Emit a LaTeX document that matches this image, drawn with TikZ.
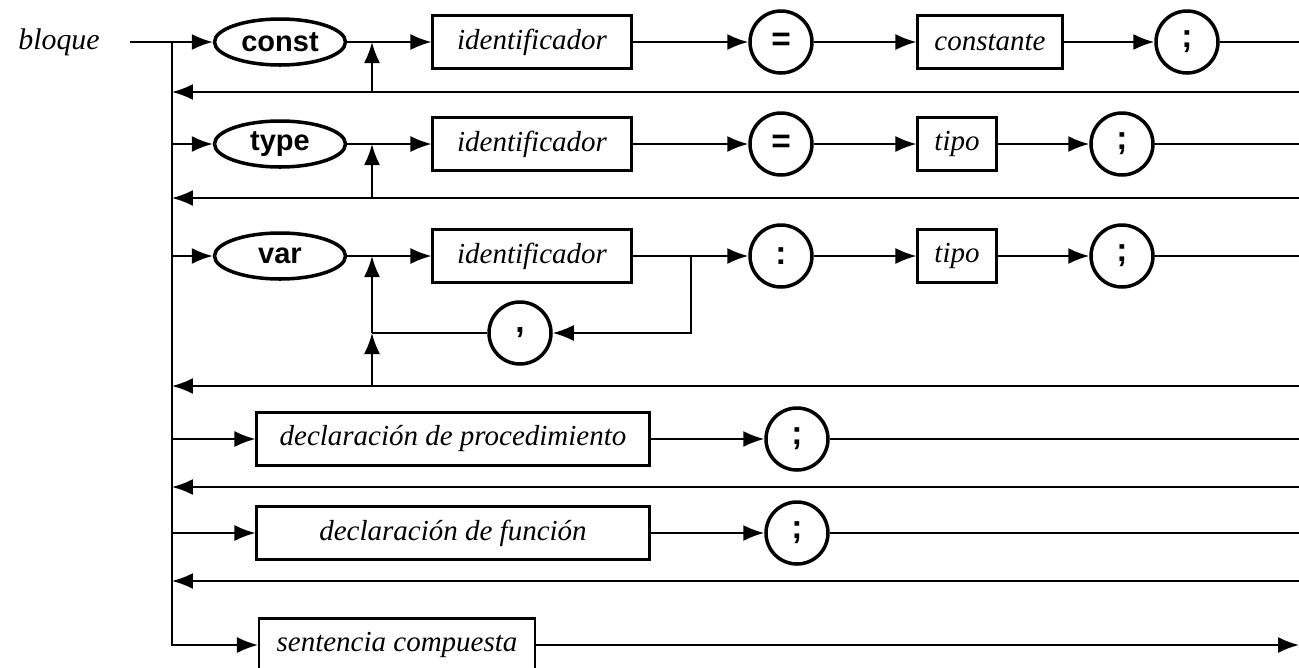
\documentclass[tikz,border=0pt]{standalone}
\usepackage{fontspec}
\setmainfont{Liberation Serif}
\setsansfont{Liberation Sans}
\usetikzlibrary{shapes.geometric}
\usetikzlibrary{arrows.meta}

\begin{document}
\begin{tikzpicture}[x=0.02cm, y=-0.02cm,
    >={Latex[length=4.2mm,width=3.2mm]},
    line width=1.1pt,
    kw/.style={ellipse, draw, line width=2pt, minimum width=2.62cm,
      minimum height=0.92cm, inner sep=0pt,
      font=\sffamily\bfseries\fontsize{16.5}{18}\selectfont},
    sym/.style={circle, draw, line width=2pt, minimum size=1.24cm,
      inner sep=0pt, font=\sffamily\bfseries\fontsize{19}{20}\selectfont},
    nt/.style={rectangle, draw, line width=1.2pt, minimum width=#1,
      minimum height=1.06cm, inner sep=0pt,
      font=\itshape\fontsize{16.5}{18}\selectfont},
  ]
  \clip (0,0) rectangle (1299,667);

  \node[font=\itshape\fontsize{17}{18}\selectfont] (bloque) at (59,42) {bloque};

  \node[kw] (const) at (280,42) {const};
  \node[nt=3.98cm] (id1) at (532,42) {identificador};
  \node[sym] (eq1) at (781,42) {=};
  \node[nt=2.9cm] (cte) at (990,42) {constante};
  \node[sym] (semi1) at (1187,42) {;};

  \node[kw] (type) at (280,144) {type};
  \node[nt=3.98cm] (id2) at (532,144) {identificador};
  \node[sym] (eq2) at (781,144) {=};
  \node[nt=1.58cm] (tipo1) at (957,144) {tipo};
  \node[sym] (semi2) at (1122,144) {;};

  \node[kw] (var) at (280,256) {var};
  \node[nt=3.98cm] (id3) at (532,256) {identificador};
  \node[sym] (colon) at (781,256) {:};
  \node[nt=1.58cm] (tipo2) at (957,256) {tipo};
  \node[sym] (semi3) at (1122,256) {;};
  \node[sym] (comma) at (520,333) {,};

  \node[nt=7.86cm] (proc) at (453,439) {declaración de procedimiento};
  \node[sym] (semi4) at (797,439) {;};

  \node[nt=7.86cm] (func) at (453,533) {declaración de función};
  \node[sym] (semi5) at (797,533) {;};

  \node[nt=5.52cm] (sent) at (397,645) {sentencia compuesta};

  \coordinate (in) at (130,42);
  \coordinate (b1) at (172,42);
  \coordinate (b2) at (172,144);
  \coordinate (b3) at (172,256);
  \coordinate (b4) at (172,439);
  \coordinate (b5) at (172,533);
  \coordinate (l1) at (172,92);
  \coordinate (l2) at (172,198);
  \coordinate (l3) at (172,386);
  \coordinate (l4) at (172,487);
  \coordinate (l5) at (172,581);
  \coordinate (r1) at (1300,92);
  \coordinate (r2) at (1300,198);
  \coordinate (r3) at (1300,386);
  \coordinate (r4) at (1300,487);
  \coordinate (r5) at (1300,581);
  \coordinate (e1) at (1300,42);
  \coordinate (e2) at (1300,144);
  \coordinate (e3) at (1300,256);
  \coordinate (e4) at (1300,439);
  \coordinate (e5) at (1300,533);
  \coordinate (e6) at (1299,645);
  \coordinate (j1) at (372,42);
  \coordinate (j1b) at (372,92);
  \coordinate (j2) at (372,144);
  \coordinate (j2b) at (372,198);
  \coordinate (j3) at (372,256);
  \coordinate (j3m) at (372,333);
  \coordinate (j3b) at (372,386);
  \coordinate (k1) at (691,256);

  \draw[->] (in) -- (const);
  \draw[->] (b1) |- (sent);
  \draw[->] (sent) -- (e6);

  \draw[->] (const) -- (id1);
  \draw[->] (id1) -- (eq1);
  \draw[->] (eq1) -- (cte);
  \draw[->] (cte) -- (semi1);
  \draw (semi1) -- (e1);
  \draw[->] (r1) -- (l1);
  \draw[->] (j1b) -- (j1);

  \draw[->] (b2) -- (type);
  \draw[->] (type) -- (id2);
  \draw[->] (id2) -- (eq2);
  \draw[->] (eq2) -- (tipo1);
  \draw[->] (tipo1) -- (semi2);
  \draw (semi2) -- (e2);
  \draw[->] (r2) -- (l2);
  \draw[->] (j2b) -- (j2);

  \draw[->] (b3) -- (var);
  \draw[->] (var) -- (id3);
  \draw[->] (id3) -- (colon);
  \draw[->] (colon) -- (tipo2);
  \draw[->] (tipo2) -- (semi3);
  \draw (semi3) -- (e3);
  \draw[->] (k1) |- (comma);
  \draw (comma) -- (j3m);
  \draw[->] (j3m) -- (j3);
  \draw[->] (j3b) -- (j3m);
  \draw[->] (r3) -- (l3);

  \draw[->] (b4) -- (proc);
  \draw[->] (proc) -- (semi4);
  \draw (semi4) -- (e4);
  \draw[->] (r4) -- (l4);

  \draw[->] (b5) -- (func);
  \draw[->] (func) -- (semi5);
  \draw (semi5) -- (e5);
  \draw[->] (r5) -- (l5);

\end{tikzpicture}
\end{document}
